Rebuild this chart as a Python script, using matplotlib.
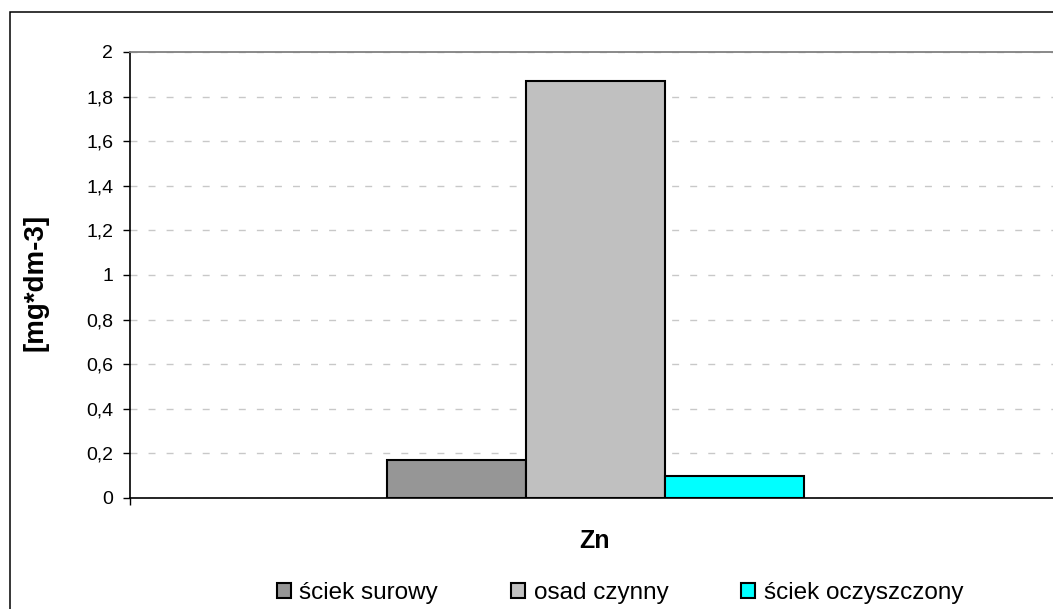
import matplotlib
matplotlib.use("Agg")
import matplotlib.pyplot as plt
from matplotlib.ticker import FuncFormatter, MultipleLocator
from matplotlib.patches import Rectangle

# Zinc concentration by sample type
categories = ["Zn"]
series_names = ["ściek surowy", "osad czynny", "ściek oczyszczony"]
series_values = [[0.17], [1.87], [0.10]]
series_colors = ["#969696", "#c0c0c0", "#00ffff"]
y_label = "[mg*dm-3]"

plt.rcParams["font.family"] = ["Liberation Sans", "DejaVu Sans"]

W, H = 1053, 609
fig = plt.figure(figsize=(W / 100, H / 100), dpi=100)

# outer chart frame (extends past the right and bottom edges)
fig.patches.append(Rectangle((9.5 / W, -0.1), 1.2, 1 - 12 / H + 0.1,
                             transform=fig.transFigure, fill=False,
                             edgecolor="black", linewidth=1.1, zorder=0))

# plot area in pixels: left 130, right 1060, top 52, bottom 498
left, right, top, bottom = 130, 1060, 52, 498
ax = fig.add_axes([left / W, 1 - bottom / H, (right - left) / W, (bottom - top) / H])

bar_w = 139 / (right - left)
n = len(series_names)
for i, (name, vals, col) in enumerate(zip(series_names, series_values, series_colors)):
    xs = [k + (i - (n - 1) / 2) * bar_w for k in range(len(categories))]
    ax.bar(xs, vals, width=bar_w, color=col, edgecolor="black",
           linewidth=1.5, label=name, zorder=3)

ax.set_xlim(-0.5, len(categories) - 0.5)
ax.set_ylim(0, 2)
ax.yaxis.set_major_locator(MultipleLocator(0.2))
ax.yaxis.set_major_formatter(FuncFormatter(
    lambda v, p: "{:g}".format(round(v, 1)).replace(".", ",")))

ax.grid(axis="y", color="#c8c8c8", linewidth=1.0, linestyle=(0, (5, 8)), zorder=0)
ax.set_axisbelow(True)

ax.spines["right"].set_visible(False)
ax.spines["top"].set_color("#808080")
ax.spines["top"].set_linewidth(1.3)
ax.spines["left"].set_linewidth(1.2)
ax.spines["bottom"].set_linewidth(1.2)

ax.tick_params(axis="y", direction="out", length=5, width=1.0, pad=7,
               labelsize=14, colors="black")
ax.set_xticks(range(len(categories)), categories)
ax.set_xticks([k - 0.5 for k in range(len(categories) + 1)], minor=True)
ax.tick_params(axis="x", which="major", length=0, pad=22, labelsize=18)
ax.tick_params(axis="x", which="minor", direction="out", length=5, width=1.0)
for t in ax.get_xticklabels():
    t.set_fontweight("bold")

ax.set_ylabel(y_label, fontsize=20, fontweight="bold")
ax.yaxis.set_label_coords((36 - left) / (right - left), (bottom - 282) / (bottom - top))
ax.yaxis.label.set_va("center")

fig.legend(loc="center", bbox_to_anchor=(620 / W, 1 - 593 / H), ncol=3,
           frameon=False, fontsize=17.5, handlelength=0.58, handleheight=0.58,
           handletextpad=0.35, columnspacing=3.0)

fig.savefig("out.png", dpi=100)
